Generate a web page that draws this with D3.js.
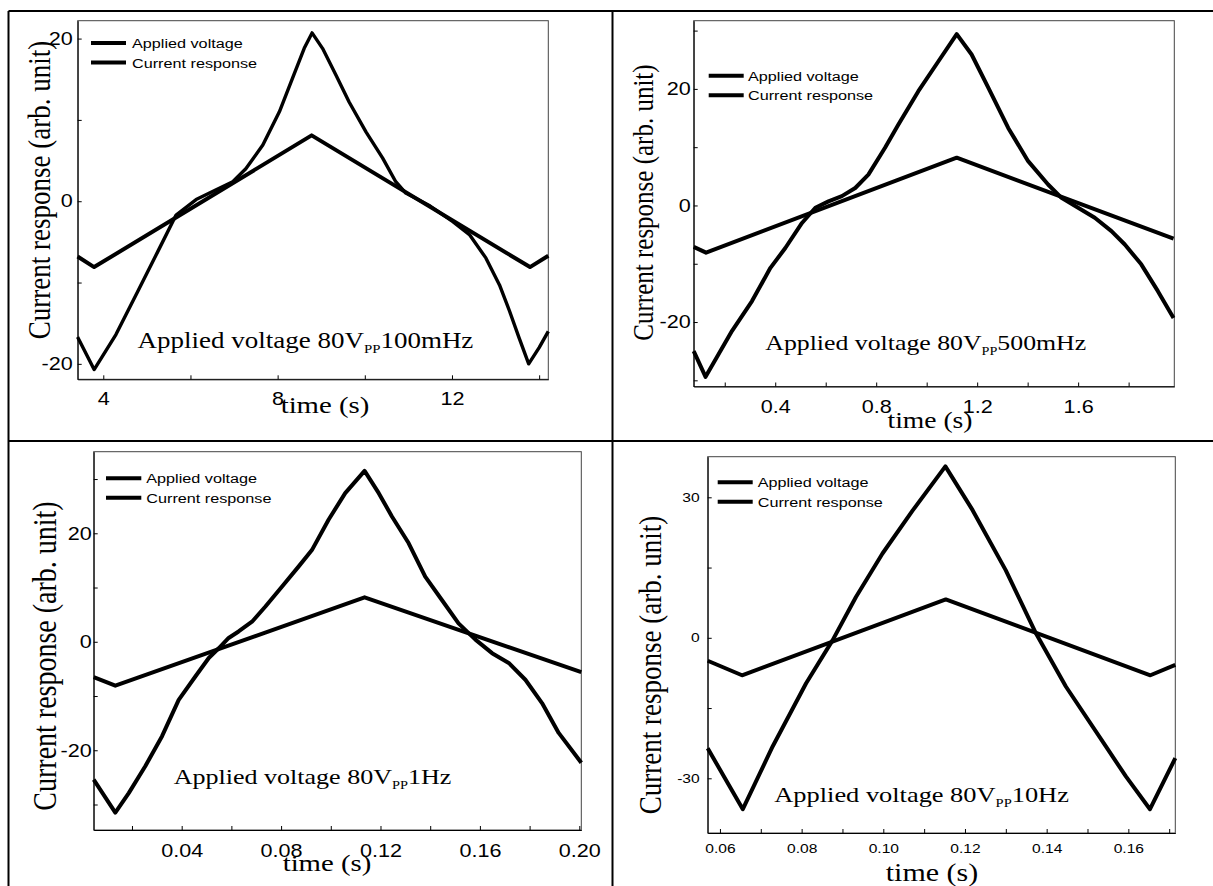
<!DOCTYPE html>
<html>
<head>
<meta charset="utf-8">
<script src="https://cdn.jsdelivr.net/npm/d3@7"></script>
<style>
  body { margin: 0; background: #fff; }
  svg { display: block; }
</style>
</head>
<body>
<svg id="chart" width="1213" height="886"></svg>
<script>
// ---- data: [time (s), signal (arb. unit)] ----
var voltage100mHz = [[3.41,-6.8],[3.79,-8.1],[8.78,8.1],[13.79,-8.1],[14.21,-6.7]];
var current100mHz = [[3.41,-16.7],[3.79,-20.7],[4.29,-16.4],[4.79,-11.1],[5.25,-6.2],[5.67,-1.7],
    [6.13,0.2],[6.59,1.4],[6.97,2.4],[7.27,4.0],[7.66,6.9],[8.04,11.0],[8.34,15.1],[8.61,18.8],
    [8.79,20.7],[9.03,18.8],[9.34,15.5],[9.64,12.2],[10.03,8.5],[10.41,5.3],[10.71,2.4],[10.94,1.0],
    [11.5,-0.6],[12.02,-2.5],[12.4,-4.1],[12.78,-7.0],[13.09,-10.3],[13.32,-13.5],[13.54,-16.8],
    [13.76,-20.0],[14.0,-18.0],[14.21,-16.0]];

var voltage500mHz = [[0.077,-7.1],[0.126,-8.1],[1.119,8.2],[1.978,-5.7]];
var current500mHz = [[0.077,-25.0],[0.124,-29.4],[0.176,-25.5],[0.229,-21.5],[0.308,-16.4],[0.381,-10.7],
    [0.44,-7.3],[0.506,-3.0],[0.559,-0.4],[0.611,0.7],[0.664,1.6],[0.717,3.0],[0.769,5.3],[0.835,9.9],
    [0.888,13.9],[0.967,19.6],[1.046,24.7],[1.119,29.4],[1.178,25.9],[1.244,20.2],[1.323,13.3],
    [1.402,7.6],[1.481,3.6],[1.534,1.3],[1.6,-0.4],[1.666,-2.1],[1.732,-4.4],[1.785,-6.7],[1.85,-10.1],
    [1.916,-14.7],[1.978,-19.3]];

var voltage1Hz = [[0.0046,-6.5],[0.0133,-8.1],[0.1136,8.2],[0.2008,-5.6]];
var current1Hz = [[0.0046,-25.4],[0.0133,-31.5],[0.0187,-27.9],[0.0254,-22.9],[0.0321,-17.4],[0.0388,-10.7],
    [0.0455,-6.4],[0.0509,-3.0],[0.0549,-1.2],[0.0589,0.7],[0.0629,1.9],[0.0683,3.7],[0.0737,6.5],
    [0.0804,10.2],[0.0871,13.9],[0.0924,16.9],[0.0991,22.5],[0.1058,27.4],[0.1136,31.5],[0.1193,27.4],
    [0.1246,23.1],[0.1313,18.2],[0.138,12.0],[0.1447,7.7],[0.1514,3.4],[0.1582,0.4],[0.1649,-2.1],
    [0.1716,-3.9],[0.1783,-7.0],[0.185,-11.3],[0.1917,-16.8],[0.2008,-22.3]];

var voltage10Hz = [[0.057,-4.9],[0.0654,-8.0],[0.1153,8.2],[0.1654,-8.0],[0.1715,-5.8]];
var current10Hz = [[0.057,-23.6],[0.0656,-36.6],[0.0729,-23.2],[0.0811,-9.7],[0.0876,-0.5],[0.0933,8.7],
    [0.0998,18.0],[0.1072,27.2],[0.1152,36.6],[0.1219,27.2],[0.13,14.4],[0.1374,0.9],[0.1447,-10.4],
    [0.1545,-23.2],[0.1594,-29.6],[0.1653,-36.6],[0.1715,-25.7]];

// ---- ticks ----
var xTicks100mHz = [4, 6, 8, 10, 12, 14];
var xText100mHz  = ["4", "", "8", "", "12", ""];
var yTicks100mHz = [-20, -10, 0, 10, 20];
var yText100mHz  = ["-20", "", "0", "", "20"];

var xTicks500mHz = [0.2, 0.4, 0.6, 0.8, 1.0, 1.2, 1.4, 1.6, 1.8];
var xText500mHz  = ["", "0.4", "", "0.8", "", "1.2", "", "1.6", ""];
var yTicks500mHz = [-30, -20, -10, 0, 10, 20, 30];
var yText500mHz  = ["", "-20", "", "0", "", "20", ""];

var xTicks1Hz = [0.02, 0.04, 0.06, 0.08, 0.10, 0.12, 0.14, 0.16, 0.18, 0.20];
var xText1Hz  = ["", "0.04", "", "0.08", "", "0.12", "", "0.16", "", "0.20"];
var yTicks1Hz = [-30, -20, -10, 0, 10, 20, 30];
var yText1Hz  = ["", "-20", "", "0", "", "20", ""];

var xTicks10Hz = [0.06, 0.07, 0.08, 0.09, 0.10, 0.11, 0.12, 0.13, 0.14, 0.15, 0.16, 0.17];
var xText10Hz  = ["0.06", "", "0.08", "", "0.10", "", "0.12", "", "0.14", "", "0.16", ""];
var yTicks10Hz = [-30, -15, 0, 15, 30];
var yText10Hz  = ["-30", "", "0", "", "30"];

var legendNames = ["Applied voltage", "Current response"];
var freqLabels = ["100mHz", "500mHz", "1Hz", "10Hz"];

var SX = 1.2;   // the source figure is stretched horizontally
var serif = "'Liberation Serif', 'Times New Roman', serif";
var sans = "'Liberation Sans', Arial, sans-serif";

var svg = d3.select("#chart");

// table grid
var grid = svg.append("g").attr("stroke", "#000").attr("stroke-width", 2);
grid.append("line").attr("x1", 8.5).attr("y1", 11).attr("x2", 8.5).attr("y2", 886);
grid.append("line").attr("x1", 8.5).attr("y1", 11).attr("x2", 1213).attr("y2", 11);
grid.append("line").attr("x1", 612.5).attr("y1", 11).attr("x2", 612.5).attr("y2", 886);
grid.append("line").attr("x1", 8.5).attr("y1", 441).attr("x2", 1213).attr("y2", 441);

var panels = [
  { volt: voltage100mHz, cur: current100mHz, freq: freqLabels[0],
    xDomain: [3.413, 14.21], yDomain: [-21.9, 22.2],
    box: { left: 77.7, top: 20.7, right: 548.3, bottom: 379.3 },
    xTicks: xTicks100mHz, xText: xText100mHz, yTicks: yTicks100mHz, yText: yText100mHz,
    tickFs: 18, xPad: 13, yPad: 5, curW: 3.4,
    legend: { x1: 91, x2: 126, y: 43, tx: 132 },
    note: { x: 137.5, y: 348, fs: 22.5 },
    yLab: { x: 50, y: 190, fs: 27 }, xLab: { x: 325, y: 413, fs: 24 } },
  { volt: voltage500mHz, cur: current500mHz, freq: freqLabels[1],
    xDomain: [0.077, 1.981], yDomain: [-31.06, 31.7],
    box: { left: 693.7, top: 20.7, right: 1174.3, bottom: 386.5 },
    xTicks: xTicks500mHz, xText: xText500mHz, yTicks: yTicks500mHz, yText: yText500mHz,
    tickFs: 18, xPad: 13.5, yPad: 3, curW: 4,
    legend: { x1: 708.7, x2: 743.7, y: 75.7, tx: 748 },
    note: { x: 765.3, y: 349.7, fs: 21.5 },
    yLab: { x: 653, y: 202.5, fs: 25 }, xLab: { x: 930, y: 428, fs: 23 } },
  { volt: voltage1Hz, cur: current1Hz, freq: freqLabels[2],
    xDomain: [0.0046, 0.2008], yDomain: [-34.7, 35.04],
    box: { left: 93.7, top: 451.7, right: 581.3, bottom: 830 },
    xTicks: xTicks1Hz, xText: xText1Hz, yTicks: yTicks1Hz, yText: yText1Hz,
    tickFs: 18, xPad: 13.8, yPad: 2, curW: 4,
    legend: { x1: 106, x2: 141.3, y: 478.3, tx: 146.3 },
    note: { x: 173.7, y: 784.3, fs: 21.7 },
    yLab: { x: 55.5, y: 656, fs: 28 }, xLab: { x: 327, y: 871, fs: 24 } },
  { volt: voltage10Hz, cur: current10Hz, freq: freqLabels[3],
    xDomain: [0.057, 0.1715], yDomain: [-41.68, 38.67],
    box: { left: 707.7, top: 456.7, right: 1175.3, bottom: 833 },
    xTicks: xTicks10Hz, xText: xText10Hz, yTicks: yTicks10Hz, yText: yText10Hz,
    tickFs: 13, xPad: 10.5, yPad: 8, curW: 4,
    legend: { x1: 717.7, x2: 752.7, y: 482.3, tx: 757.7 },
    note: { x: 774.3, y: 802.3, fs: 22 },
    yLab: { x: 661, y: 665, fs: 27 }, xLab: { x: 932, y: 881, fs: 25 } }
];

// stretch the axis text the same way as the source
function stretchTicks(sel) {
  sel.selectAll(".tick text").each(function() {
    var t = d3.select(this);
    var tx = +t.attr("x") || 0, ty = +t.attr("y") || 0;
    t.attr("x", 0).attr("y", 0)
     .attr("transform", `translate(${tx},${ty}) scale(${SX},1)`);
  });
}

panels.forEach(function(p) {
  var g = svg.append("g");
  var b = p.box;

  var xScale = d3.scaleLinear().domain(p.xDomain).range([b.left, b.right]);
  var yScale = d3.scaleLinear().domain(p.yDomain).range([b.bottom, b.top]);

  // frame
  g.append("rect")
    .attr("x", b.left).attr("y", b.top)
    .attr("width", b.right - b.left).attr("height", b.bottom - b.top)
    .attr("fill", "none").attr("stroke", "#444").attr("stroke-width", 1);

  // axes, ticks pointing inside
  var xa = g.append("g")
    .attr("transform", `translate(0, ${b.bottom})`)
    .call(d3.axisBottom(xScale).tickValues(p.xTicks).tickSizeInner(-4).tickSizeOuter(0)
      .tickPadding(p.xPad).tickFormat((d, i) => p.xText[i]));
  var ya = g.append("g")
    .attr("transform", `translate(${b.left}, 0)`)
    .call(d3.axisLeft(yScale).tickValues(p.yTicks).tickSizeInner(-4).tickSizeOuter(0)
      .tickPadding(p.yPad).tickFormat((d, i) => p.yText[i]));
  [xa, ya].forEach(function(a) {
    a.attr("font-family", sans).attr("font-size", p.tickFs);
    a.selectAll("text").attr("fill", "#000");
    a.selectAll("line, path").attr("stroke", "#000");
    stretchTicks(a);
  });

  // curves
  var line = d3.line().x(d => xScale(d[0])).y(d => yScale(d[1]));
  g.append("path").datum(p.volt)
    .attr("d", line).attr("fill", "none").attr("stroke", "#000")
    .attr("stroke-width", 4).attr("stroke-linejoin", "round");
  g.append("path").datum(p.cur)
    .attr("d", line).attr("fill", "none").attr("stroke", "#000")
    .attr("stroke-width", p.curW).attr("stroke-linejoin", "round");

  // legend
  legendNames.forEach(function(name, i) {
    var ly = p.legend.y + i * 19.5;
    g.append("line")
      .attr("x1", p.legend.x1).attr("x2", p.legend.x2)
      .attr("y1", ly).attr("y2", ly)
      .attr("stroke", "#000").attr("stroke-width", 4);
    g.append("text")
      .attr("transform", `translate(${p.legend.tx}, ${ly + 5}) scale(${SX},1)`)
      .attr("font-family", sans).attr("font-size", 13.5)
      .text(name);
  });

  // annotation with subscript
  var note = g.append("text")
    .attr("transform", `translate(${p.note.x}, ${p.note.y}) scale(${SX},1)`)
    .attr("font-family", serif).attr("font-size", p.note.fs);
  note.append("tspan").text("Applied voltage 80V");
  note.append("tspan").attr("font-size", p.note.fs * 0.55).attr("dy", 5).text("PP");
  note.append("tspan").attr("dy", -5).text(p.freq);

  // axis titles
  g.append("text")
    .attr("transform", `translate(${p.yLab.x}, ${p.yLab.y}) scale(${SX},1) rotate(-90)`)
    .attr("text-anchor", "middle")
    .attr("font-family", serif).attr("font-size", p.yLab.fs)
    .text("Current response (arb. unit)");
  g.append("text")
    .attr("transform", `translate(${p.xLab.x}, ${p.xLab.y}) scale(${SX},1)`)
    .attr("text-anchor", "middle")
    .attr("font-family", serif).attr("font-size", p.xLab.fs)
    .text("time (s)");
});
</script>
</body>
</html>
